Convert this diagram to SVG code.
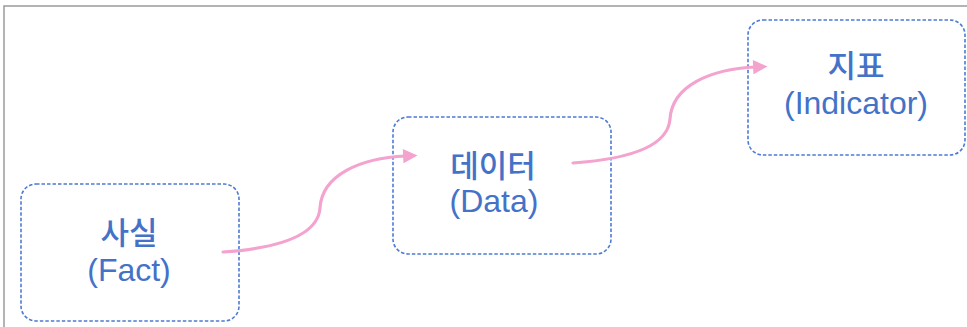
<svg xmlns="http://www.w3.org/2000/svg" width="967" height="327" viewBox="0 0 967 327">
<style>
.box{fill:none;stroke:#4D7BD3;stroke-width:1.6;stroke-dasharray:3.5 2}
.t{font-family:"Liberation Sans","Noto Sans CJK KR",sans-serif;font-size:32px;fill:#4472C8;text-anchor:middle}
.k{font-family:"Noto Sans CJK KR",sans-serif;font-weight:500;font-size:31px;fill:#4472C8;text-anchor:middle}
.c{fill:none;stroke:#F3A3CE;stroke-width:3.2;stroke-linecap:round}
</style>
<defs>
<marker id="ah" viewBox="0 0 10 10" refX="2" refY="5" markerWidth="5" markerHeight="4.5" orient="auto" markerUnits="strokeWidth">
<path d="M0,0 L10,5 L0,10 z" fill="#F3A3CE"/>
</marker>
</defs>
<rect width="967" height="327" fill="#fff"/>
<path d="M4,327 V6 H967" fill="none" stroke="#9a9a9a" stroke-width="1.5"/>
<g id="fact">
<rect class="box" x="21" y="184" width="218" height="137" rx="15"/>
<text class="k" x="129" y="244">사실</text>
<text class="t" x="129" y="281">(Fact)</text>
</g>
<g id="data">
<rect class="box" x="393" y="117" width="218" height="137" rx="15"/>
<text class="k" x="493" y="177">데이터</text>
<text class="t" x="494" y="212">(Data)</text>
</g>
<g id="indicator">
<rect class="box" x="748" y="20" width="217" height="135" rx="15"/>
<text class="k" x="856" y="77">지표</text>
<text class="t" x="856" y="114">(Indicator)</text>
</g>
<g id="connectors">
<path class="c" d="M223,252 C280,248 318,235 320,208 C322,175 360,158 406,156" marker-end="url(#ah)"/>
<path class="c" d="M573,163 C630,159 668,146 670,119 C672,86 710,69 756,67" marker-end="url(#ah)"/>
</g>
</svg>
